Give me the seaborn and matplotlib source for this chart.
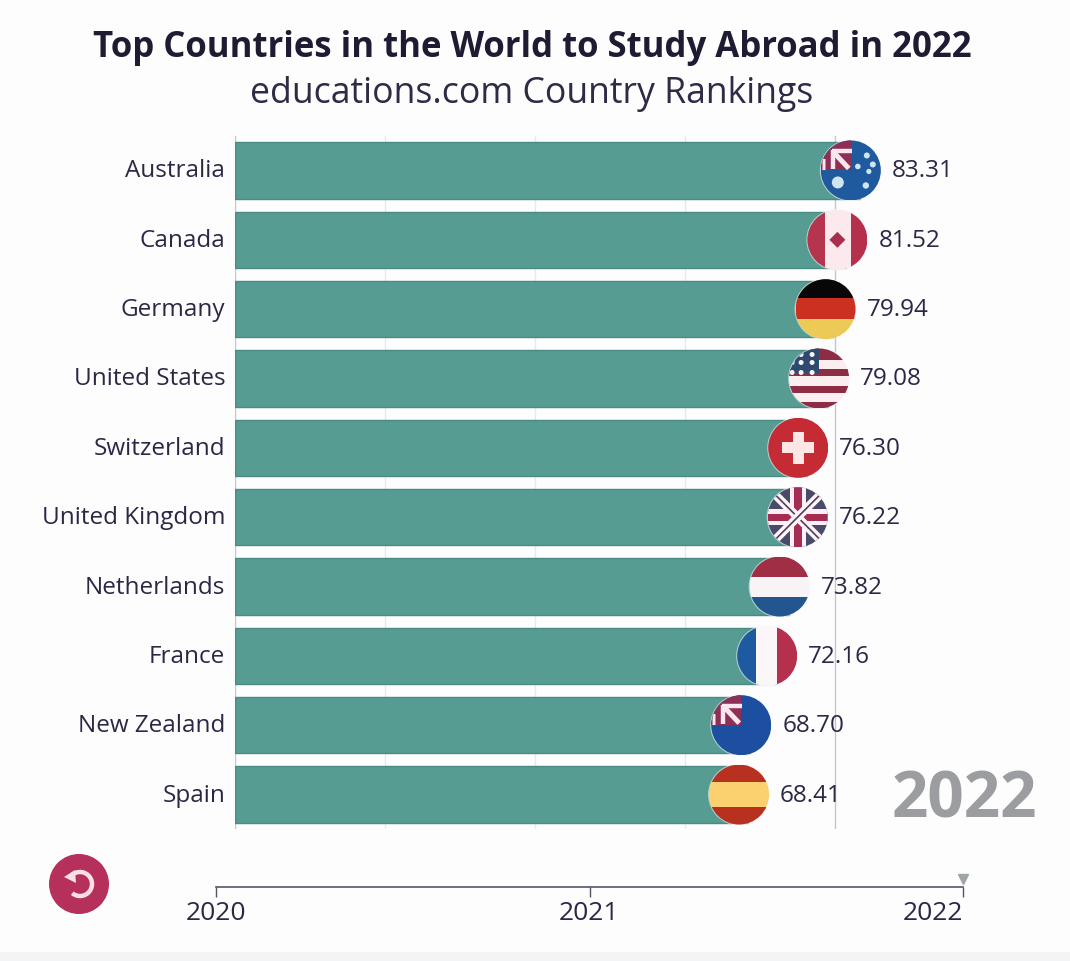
import numpy as np
import pandas as pd
import matplotlib
matplotlib.use("Agg")
import matplotlib.pyplot as plt
import matplotlib.transforms as mtransforms
from matplotlib.patches import Circle, Rectangle, Polygon, Arc
import seaborn as sns

countries = ["Australia", "Canada", "Germany", "United States", "Switzerland",
             "United Kingdom", "Netherlands", "France", "New Zealand", "Spain"]
scores = [83.31, 81.52, 79.94, 79.08, 76.30, 76.22, 73.82, 72.16, 68.70, 68.41]
grid_ticks = [0, 20, 40, 60, 80]
timeline_years = [2020, 2021, 2022]

W, H = 1070, 962
BG = "#fdfdfe"
TXT = "#2b2845"
TEAL = "#569c92"
LABEL_SIZE = 17.5

sns.set_theme(style="white")
plt.rcParams['font.family'] = ['Open Sans', 'DejaVu Sans']

fig = plt.figure(figsize=(W / 100, H / 100), dpi=100, facecolor=BG)


def px_axes(x0, y0, x1, y1, **kw):
    return fig.add_axes([x0 / W, 1 - y1 / H, (x1 - x0) / W, (y1 - y0) / H], **kw)


# main bars
ax = px_axes(235, 136.8, 235 + 7.5 * 110, 830.2)
ax.set_facecolor("none")
df = pd.DataFrame({"country": countries, "score": scores})
sns.barplot(data=df, x="score", y="country", color=TEAL, saturation=1, width=0.81, ax=ax, zorder=2,
            edgecolor="#4a8c82", linewidth=1)
ax.set_xlim(0, 110)
ax.set_ylim(9.5, -0.5)
ax.set_xlabel("")
ax.set_ylabel("")
ax.set_xticks(grid_ticks)
ax.set_xticklabels([])
ax.tick_params(axis="x", length=0)
ax.tick_params(axis="y", length=0, pad=7, labelsize=LABEL_SIZE, labelcolor=TXT)
for lab in ax.get_yticklabels():
    lab.set_transform(lab.get_transform() + mtransforms.ScaledTranslation(0, 3 / 100, fig.dpi_scale_trans))
for g in grid_ticks:
    ax.axvline(g, color="#c4c6c8" if g in (0, 80) else "#e6eaea", lw=1, zorder=1)
sns.despine(ax=ax, left=True, bottom=True)

for i, v in enumerate(scores):
    ax.annotate(f"{v:.2f}", (v, i), xytext=(32 * 0.72, 0), textcoords="offset points",
                va="center", ha="left", fontsize=LABEL_SIZE, color=TXT, zorder=6)

# overlay in pixel coordinates for flags and furniture
ov = fig.add_axes([0, 0, 1, 1], zorder=5)
ov.set_xlim(0, W)
ov.set_ylim(H, 0)
ov.axis("off")
ov.patch.set_alpha(0)

R = 30
NAVY = "#1f5a9e"


def disc(cx, cy):
    return Circle((cx, cy), R, transform=ov.transData)


def rect(clip, x, y, w, h, color):
    p = Rectangle((x, y), w, h, fc=color, ec="none")
    ov.add_patch(p)
    p.set_clip_path(clip)


def line(clip, xs, ys, color, lw):
    l, = ov.plot(xs, ys, color=color, lw=lw, solid_capstyle="butt")
    l.set_clip_path(clip)


def stripes_h(clip, cx, cy, colors, fracs=None):
    fracs = fracs or [1 / len(colors)] * len(colors)
    y = cy - R
    for c, f in zip(colors, fracs):
        rect(clip, cx - R, y, 2 * R, 2 * R * f, c)
        y += 2 * R * f


def stripes_v(clip, cx, cy, colors, fracs):
    x = cx - R
    for c, f in zip(colors, fracs):
        rect(clip, x, cy - R, 2 * R * f, 2 * R, c)
        x += 2 * R * f


def corner_jack(clip, cx, cy, bg):
    rect(clip, cx - R, cy - R, 2 * R, 2 * R, bg)
    rect(clip, cx - R, cy - R, R, R, "#8e2f55")
    line(clip, [cx - 19, cx + 1], [cy - 19, cy - 19], "#fbe6ee", 3.2)
    line(clip, [cx - 18, cx - 18], [cy - 20, cy - 1], "#fbe6ee", 3.2)
    line(clip, [cx - 18, cx - 2], [cy - 19, cy - 2], "#fbe6ee", 3.6)
    line(clip, [cx - 29, cx - 26], [cy - 6, cy - 6], "#fbe6ee", 8)


def flag_au(cx, cy):
    clip = disc(cx, cy)
    corner_jack(clip, cx, cy, NAVY)
    for dx, dy, s in [(16, -15, 3), (22, -6, 3), (7, -4, 2.8), (18, 1, 2.6), (15, 15, 3.2)]:
        ov.add_patch(Circle((cx + dx, cy + dy), s, fc="#cfe6f2", ec="none"))
    ov.add_patch(Circle((cx - 13, cy + 12), 6, fc="#cfe6f2", ec="none"))


def flag_nz(cx, cy):
    corner_jack(disc(cx, cy), cx, cy, "#1c4f9f")


def flag_ca(cx, cy):
    clip = disc(cx, cy)
    stripes_v(clip, cx, cy, ["#b5354e", "#fbe9ee", "#b5304c"], [0.29, 0.44, 0.27])
    ov.add_patch(Polygon([(cx, cy - 8), (cx + 8, cy), (cx, cy + 8), (cx - 8, cy)], fc="#a9304c", ec="none"))


def flag_de(cx, cy):
    stripes_h(disc(cx, cy), cx, cy, ["#080606", "#cc3020", "#ecca55"], [0.32, 0.35, 0.33])


def flag_us(cx, cy):
    clip = disc(cx, cy)
    colors = ["#8f2c45", "#fbeef0"] * 3 + ["#8f2c45"]
    stripes_h(clip, cx, cy, colors, [0.2, 0.14, 0.12, 0.17, 0.12, 0.14, 0.11])
    rect(clip, cx - R, cy - R, R, 25, "#2f4a6e")
    for dx in (-27, -18, -7):
        for dy in (-24, -16, -6):
            star = Circle((cx + dx, cy + dy), 2.5, fc="#f4f4fa", ec="none")
            ov.add_patch(star)
            star.set_clip_path(clip)


def flag_ch(cx, cy):
    clip = disc(cx, cy)
    rect(clip, cx - R, cy - R, 2 * R, 2 * R, "#c42b34")
    rect(clip, cx - 16, cy - 5.5, 32, 11, "#fde6e4")
    rect(clip, cx - 5.5, cy - 16, 11, 32, "#fde6e4")


def flag_uk(cx, cy):
    clip = disc(cx, cy)
    rect(clip, cx - R, cy - R, 2 * R, 2 * R, "#4a4a6a")
    for s in (1, -1):
        line(clip, [cx - R, cx + R], [cy - s * R, cy + s * R], "#fdf6f8", 6)
        line(clip, [cx - R, cx + R], [cy - s * R, cy + s * R], "#5a3a5a", 1.2)
    rect(clip, cx - R, cy - 8, 2 * R, 16, "#fdf0f4")
    rect(clip, cx - 8, cy - R, 16, 2 * R, "#fdf0f4")
    rect(clip, cx - R, cy - 3.5, 2 * R, 7, "#a52c52")
    rect(clip, cx - 4, cy - R, 8, 2 * R, "#a52c52")


def flag_nl(cx, cy):
    stripes_h(disc(cx, cy), cx, cy, ["#a02e45", "#f8f4f6", "#23558f"])


def flag_fr(cx, cy):
    stripes_v(disc(cx, cy), cx, cy, ["#1f5aa0", "#fbf7f9", "#b5304c"], [0.32, 0.35, 0.33])


def flag_es(cx, cy):
    stripes_h(disc(cx, cy), cx, cy, ["#b8301f", "#fbd170", "#b8301f"], [0.29, 0.42, 0.29])


flags = [flag_au, flag_ca, flag_de, flag_us, flag_ch, flag_uk, flag_nl, flag_fr, flag_nz, flag_es]

to_ov = ov.transData.inverted()
for i, (v, fn) in enumerate(zip(scores, flags)):
    bx, by = to_ov.transform(ax.transData.transform((v, i)))
    bx -= 9  # flag sits just inside the bar end
    ov.add_patch(Circle((bx, by), R + 1, fc="#f8f8fa", ec="none", alpha=0.6))
    fn(bx, by)

# titles and year
fig.text(532 / W, 1 - 48 / H, "Top Countries in the World to Study Abroad in 2022", ha="center", va="center",
         fontsize=25, fontweight="bold", color="#1e1b33")
fig.text(532 / W, 1 - 94 / H, "educations.com Country Rankings", ha="center", va="center",
         fontsize=25.7, color="#2e2b45")
fig.text(964 / W, 1 - 801 / H, "2022", ha="center", va="center", fontsize=46, fontweight="bold", color="#9b9da0")

# replay button
ov.add_patch(Circle((79, 885), 30, fc="#b5305a", ec="none"))
ov.add_patch(Arc((80, 885), 24, 24, theta1=-150, theta2=130, ec="#fbdfe6", lw=3.2))
ov.add_patch(Polygon([(64, 878), (75, 871), (76, 884)], fc="#fbdfe6", ec="none"))

# timeline
tl = px_axes(216, 870, 963, 888)
tl.set_facecolor("none")
tl.set_xlim(timeline_years[0], timeline_years[-1])
tl.set_yticks([])
tl.set_xticks(timeline_years)
tl.set_xticklabels([str(y) for y in timeline_years], fontsize=19, color=TXT)
tl.get_xticklabels()[-1].set_ha("right")
tl.tick_params(axis="x", length=7, width=1, color="#555566", pad=2, bottom=True)
sns.despine(ax=tl, left=True, right=True, top=True)
tl.spines["bottom"].set_color("#555566")
tl.spines["bottom"].set_linewidth(1.2)
tl.plot([timeline_years[-1]], [0.44], marker="v", ms=7, color="#a0a5a8", clip_on=False)
tl.set_ylim(0, 1)

# bottom strip
fig.add_artist(Rectangle((0, 0), 1, 9 / H, transform=fig.transFigure, fc="#f2f4f5", ec="none"))

fig.savefig("out.png", dpi=100, facecolor=BG)
